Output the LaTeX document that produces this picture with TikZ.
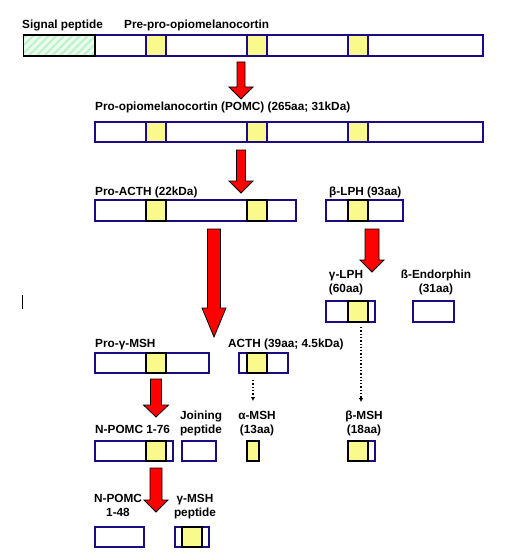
\documentclass[tikz,border=0pt]{standalone}
\usepackage{fontspec}
\setmainfont{Liberation Sans}
\usetikzlibrary{arrows.meta,calc,patterns.meta}
\definecolor{POMCnavy}{RGB}{28,12,132}
\definecolor{POMCyellow}{RGB}{250,250,140}
\definecolor{POMCgreen}{RGB}{185,245,200}

% fat red processing arrow: top, tip, half shaft, half head, head length
\newcommand{\cleavearrow}[5]{%
  \draw[fatarrow] ($(#1)+(-#3,0)$) -- ($(#2)+(-#3,-#5)$) -- ($(#2)+(-#4,-#5)$) -- (#2)
    -- ($(#2)+(#4,-#5)$) -- ($(#2)+(#3,-#5)$) -- ($(#1)+(#3,0)$) -- cycle;}

\begin{document}
\begin{tikzpicture}[x=1pt, y=-1pt,
    bar/.style={draw=POMCnavy, line width=1.7pt, fill=white},
    seg/.style={draw=POMCnavy, line width=1.7pt, fill=POMCyellow},
    core/.style={draw=black, line width=1.7pt, fill=POMCyellow},
    lbl/.style={font=\bfseries\fontsize{11.8}{14}\selectfont, inner sep=0pt},
    fatarrow/.style={draw=black, line width=0.8pt, fill=red},
    dotarrow/.style={dotted, line width=1.3pt, -{Latex[length=4pt,width=4.5pt]}}]
    \useasboundingbox (0,0) rectangle (507,559);

    % Pre-pro-opiomelanocortin
    \node[lbl, anchor=base west] (sigl) at (22,28.8) {Signal peptide};
    \node[lbl, anchor=base west] (preprol) at (124,28.8) {Pre-pro-opiomelanocortin};
    \draw[bar] (23.5,35) rectangle (483,56);
    \fill[POMCgreen!25] (23.5,35) rectangle (95,56);
    \fill[pattern={Lines[angle=45,distance=5.5pt,line width=2pt]}, pattern color=POMCgreen] (23.5,35) rectangle (95,56);
    \draw[line width=1.7pt] (23.5,35) rectangle (95,56);
    \foreach \xa in {146,247,348} \draw[seg] (\xa,35) rectangle (\xa+20,56);

    % POMC
    \node[lbl, anchor=base west] (pomcl) at (95,110.7) {Pro-opiomelanocortin (POMC) (265aa; 31kDa)};
    \draw[bar] (95,122) rectangle (483,142);
    \foreach \xa in {146,247,348} \draw[seg] (\xa,122) rectangle (\xa+20,142);

    % Pro-ACTH and beta-LPH
    \node[lbl, anchor=base west] (proacthl) at (95,195) {Pro-ACTH (22kDa)};
    \draw[bar] (95,200) rectangle (296,221);
    \foreach \xa in {146,247} \draw[core] (\xa,200) rectangle (\xa+20,221);
    \node[lbl, anchor=base west] (blphl) at (329,195) {β-LPH (93aa)};
    \draw[bar] (326,200) rectangle (403,221);
    \draw[core] (348,200) rectangle (368,221);

    % gamma-LPH and beta-endorphin
    \node[lbl, anchor=base, align=center] (glphl) at (346,292) {γ-LPH\\(60aa)};
    \draw[bar] (326,301) rectangle (375,322);
    \draw[core] (348,301) rectangle (368,322);
    \node[lbl, anchor=base, align=center] (bendl) at (436,292) {ß-Endorphin\\(31aa)};
    \draw[bar] (413,301) rectangle (454,322);

    % Pro-gamma-MSH and ACTH
    \node[lbl, anchor=base west] (pgmshl) at (95,347.3) {Pro-γ-MSH};
    \draw[bar] (95,353) rectangle (209,373);
    \draw[core] (146,353) rectangle (166,373);
    \node[lbl, anchor=base west] (acthl) at (228,347.3) {ACTH (39aa; 4.5kDa)};
    \draw[bar] (239,353) rectangle (288,373);
    \draw[core] (247,353) rectangle (267,373);

    % N-POMC 1-76, joining peptide, MSHs
    \node[lbl, anchor=base west] (npomcl) at (95,433.3) {N-POMC 1-76};
    \draw[bar] (95,441) rectangle (173,461);
    \draw[core] (146,441) rectangle (166,461);
    \node[lbl, anchor=base, align=center] (joinl) at (201,433.5) {Joining\\peptide};
    \draw[bar] (182,441) rectangle (216,461);
    \node[lbl, anchor=base, align=center] (amshl) at (257,433.5) {α-MSH\\(13aa)};
    \draw[core] (247,441) rectangle (259,461);
    \node[lbl, anchor=base, align=center] (bmshl) at (364,433.5) {β-MSH\\(18aa)};
    \draw[bar] (348,441) rectangle (375,461);
    \draw[core] (348,441) rectangle (368,461);

    % N-POMC 1-48 and gamma-MSH
    \node[lbl, anchor=base, align=center] (npomcsl) at (118,516.7) {N-POMC\\1-48};
    \draw[bar] (95,527) rectangle (144,547);
    \node[lbl, anchor=base, align=center] (gmshl) at (195,516.7) {γ-MSH\\peptide};
    \draw[bar] (175,527) rectangle (209,547);
    \draw[core] (182,527) rectangle (202,547);

    % cleavage steps
    \coordinate (c1top) at (241,62);  \coordinate (c1tip) at (241,99);
    \coordinate (c2top) at (241,150); \coordinate (c2tip) at (241,193);
    \coordinate (c3top) at (214,229); \coordinate (c3tip) at (214,337);
    \coordinate (c4top) at (372,229); \coordinate (c4tip) at (372,272);
    \coordinate (c5top) at (156,379); \coordinate (c5tip) at (156,417);
    \coordinate (c6top) at (156,468); \coordinate (c6tip) at (156,512);
    \cleavearrow{c1top}{c1tip}{4}{12}{12}
    \cleavearrow{c2top}{c2tip}{4.5}{12}{12}
    \cleavearrow{c3top}{c3tip}{6.5}{12}{29}
    \cleavearrow{c4top}{c4tip}{7}{12}{12}
    \cleavearrow{c5top}{c5tip}{5.5}{12.5}{12}
    \cleavearrow{c6top}{c6tip}{6}{12}{12}

    % further processing
    \coordinate (d1top) at (253,380); \coordinate (d1tip) at (253,401);
    \coordinate (d2top) at (361,327); \coordinate (d2tip) at (361,402);
    \draw[dotarrow] (d1top) -- (d1tip);
    \draw[dotarrow] (d2top) -- (d2tip);

    \draw[line width=0.8pt] (22,295) -- (22,309);
\end{tikzpicture}
\end{document}
